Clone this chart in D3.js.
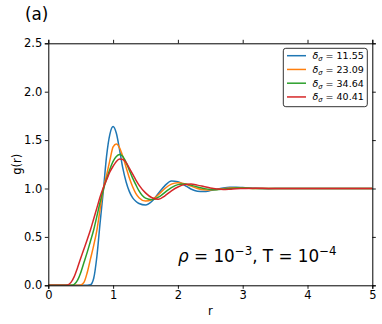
<!DOCTYPE html>
<html><head><meta charset="utf-8">
<script src="https://cdn.jsdelivr.net/npm/d3@7"></script>
<style>body{margin:0;background:#fff}svg{display:block}text{font-family:"DejaVu Sans",sans-serif}</style>
</head><body>
<svg id="c" width="382" height="324"></svg>
<script>
const rGrid = [0,0.25,0.3,0.35,0.4,0.45,0.5,0.55,0.6,0.65,0.7,0.75,0.8,0.85,0.9,0.95,1.0,1.05,1.1,1.15,1.2,1.25,1.3,1.35,1.4,1.5,1.6,1.7,1.8,1.9,2.0,2.1,2.2,2.3,2.4,2.5,2.6,2.7,2.8,2.9,3.0,3.2,3.4,3.6,3.8,4.0,4.5,5.0];
const g1155 = [0,0,0,0,0,0,0,0,0,0.005,0.07,0.3,0.65,0.98,1.34,1.56,1.64,1.57,1.4,1.21,1.07,0.97,0.905,0.868,0.845,0.83,0.868,0.95,1.03,1.077,1.07,1.035,0.995,0.972,0.968,0.978,0.993,1.005,1.012,1.013,1.01,1.002,0.998,1.0,1.0,1.0,1.0,1.0];
const g2309 = [0,0,0,0,0,0,0.003,0.03,0.13,0.27,0.41,0.57,0.79,1.0,1.14,1.29,1.43,1.46,1.42,1.33,1.22,1.11,1.02,0.95,0.905,0.87,0.885,0.935,1.0,1.045,1.06,1.05,1.025,1.0,0.987,0.985,0.99,0.998,1.005,1.008,1.006,1.0,0.999,1.0,1.0,1.0,1.0,1.0];
const g3464 = [0,0,0,0,0.01,0.05,0.13,0.235,0.34,0.455,0.571,0.715,0.86,0.99,1.1,1.2,1.28,1.33,1.35,1.33,1.27,1.19,1.11,1.04,0.975,0.9,0.885,0.91,0.96,1.01,1.04,1.046,1.035,1.015,1.0,0.99,0.988,0.993,1.0,1.004,1.004,1.0,1.0,1.0,1.0,1.0,1.0,1.0];
const g4041 = [0,0,0.004,0.03,0.09,0.18,0.28,0.375,0.47,0.571,0.685,0.8,0.915,1.01,1.09,1.17,1.23,1.28,1.305,1.3,1.27,1.21,1.15,1.09,1.035,0.955,0.905,0.89,0.925,0.975,1.015,1.04,1.046,1.035,1.02,1.005,0.995,0.99,0.993,0.998,1.0,1.003,1.0,1.0,1.0,1.0,1.0,1.0];
const seriesNames = ["11.55","23.09","34.64","40.41"];
const seriesColors = ["#1f77b4","#ff7f0e","#2ca02c","#d62728"];
const xTicks = [0,1,2,3,4,5];
const yTicks = [0,0.5,1.0,1.5,2.0,2.5];

const svg = d3.select("#c");
const L = 48.3, R = 372.3, T = 43.3, B = 285.3;
const x = d3.scaleLinear().domain([0,5]).range([L,R]);
const y = d3.scaleLinear().domain([0,2.5]).range([B,T]);
const allSeries = [g1155,g2309,g3464,g4041];

const plot = svg.append("g");
plot.append("clipPath").attr("id","clip").append("rect").attr("x",L).attr("y",T).attr("width",R-L).attr("height",B-T);
const line = d3.line().x(d=>x(d[0])).y(d=>y(d[1])).curve(d3.curveMonotoneX);
allSeries.forEach((s,i)=>{
  plot.append("path").attr("d", line(rGrid.map((r,j)=>[r,s[j]])))
    .attr("fill","none").attr("stroke",seriesColors[i]).attr("stroke-width",1.5)
    .attr("clip-path","url(#clip)");
});

// axes
const fmt = d3.format(".1f");
const ax = (g)=>g.selectAll(".domain").attr("stroke","#000").attr("stroke-width",1);
svg.append("g").attr("transform",`translate(0,${B})`).call(d3.axisBottom(x).tickValues(xTicks).tickFormat(d3.format("d")).tickSize(3.5).tickPadding(2.5)).call(ax)
  .selectAll("text").attr("font-size",11.5).attr("fill","#000").attr("font-family","DejaVu Sans");
svg.append("g").attr("transform",`translate(0,${T})`).call(d3.axisTop(x).tickValues(xTicks).tickFormat("").tickSize(3.5)).call(ax);
svg.append("g").attr("transform",`translate(${L},0)`).call(d3.axisLeft(y).tickValues(yTicks).tickFormat(fmt).tickSize(3.5).tickPadding(2.5)).call(ax)
  .selectAll("text").attr("font-size",11.5).attr("fill","#000").attr("font-family","DejaVu Sans");
svg.append("g").attr("transform",`translate(${R},0)`).call(d3.axisRight(y).tickValues(yTicks).tickFormat("").tickSize(3.5)).call(ax);
svg.selectAll(".tick line").attr("stroke","#000").attr("stroke-width",0.9);

// labels
svg.append("text").attr("x",(L+R)/2).attr("y",315).attr("text-anchor","middle").attr("font-size",11.5).text("r");
svg.append("text").attr("transform",`translate(21,${(T+B)/2}) rotate(-90)`).attr("text-anchor","middle").attr("font-size",11.5).text("g(r)");
svg.append("text").attr("x",25).attr("y",20).attr("font-size",16.8).text("(a)");

// annotation
const ann = svg.append("text").attr("x",178).attr("y",262).attr("font-size",16.8);
ann.append("tspan").attr("font-style","italic").text("ρ");
ann.append("tspan").text(" = 10");
ann.append("tspan").attr("dy",-7).attr("font-size",11.8).text("−3");
ann.append("tspan").attr("dy",7).text(", T = 10");
ann.append("tspan").attr("dy",-7).attr("font-size",11.8).text("−4");

// legend
const lg = svg.append("g");
lg.append("rect").attr("x",283.3).attr("y",48.3).attr("width",84).attr("height",58.4).attr("rx",2.5)
  .attr("fill","#fff").attr("stroke","#333").attr("stroke-width",1);
seriesNames.forEach((n,i)=>{
  const yy = 55.7 + i*13.75;
  lg.append("line").attr("x1",287).attr("x2",306).attr("y1",yy).attr("y2",yy).attr("stroke",seriesColors[i]).attr("stroke-width",1.5);
  const t = lg.append("text").attr("x",312.5).attr("y",yy+3.4).attr("font-size",9.5);
  t.append("tspan").attr("font-style","italic").text("δ");
  t.append("tspan").attr("font-style","italic").attr("font-size",6.7).attr("dy",2).text("σ");
  t.append("tspan").attr("dy",-2).text(" = " + n);
});
</script>
</body></html>
